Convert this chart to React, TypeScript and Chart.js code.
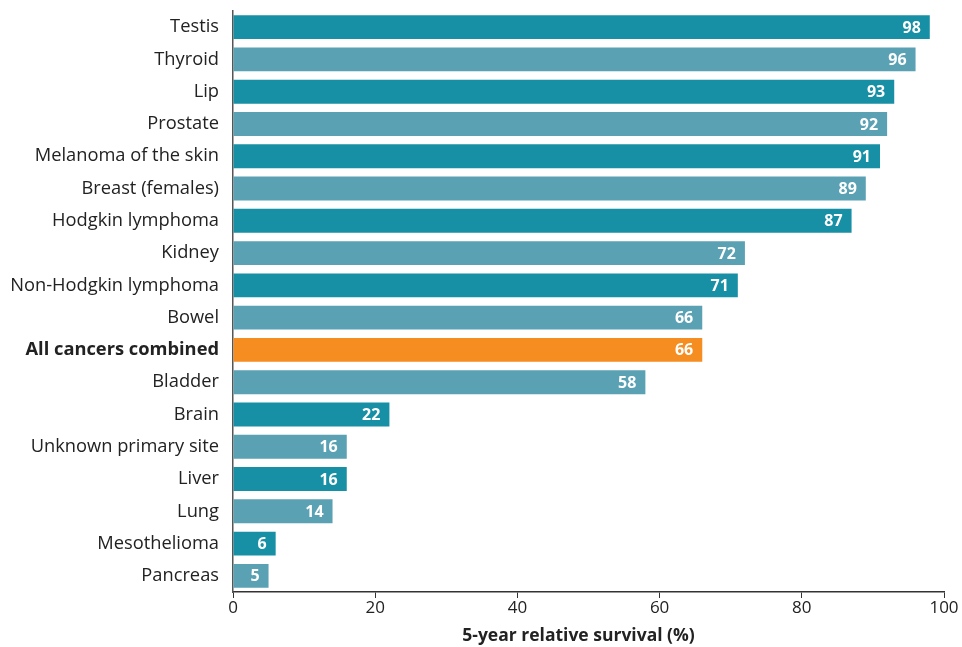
import React, { useEffect, useRef } from "react";
import { Chart, registerables } from "chart.js";

Chart.register(...registerables);

const categories = [
  "Testis",
  "Thyroid",
  "Lip",
  "Prostate",
  "Melanoma of the skin",
  "Breast (females)",
  "Hodgkin lymphoma",
  "Kidney",
  "Non-Hodgkin lymphoma",
  "Bowel",
  "All cancers combined",
  "Bladder",
  "Brain",
  "Unknown primary site",
  "Liver",
  "Lung",
  "Mesothelioma",
  "Pancreas",
];
const survival = [98, 96, 93, 92, 91, 89, 87, 72, 71, 66, 66, 58, 22, 16, 16, 14, 6, 5];
const xTicks = [0, 20, 40, 60, 80, 100];
const axisTitle = "5-year relative survival (%)";
const highlightLabel = "All cancers combined";

const DARK = "#178fa5";
const LIGHT = "#5ba1b4";
const ORANGE = "#f68d21";
const FONT = "'Open Sans', 'Noto Sans', sans-serif";

export default function App() {
  const ref = useRef<HTMLCanvasElement | null>(null);

  useEffect(() => {
    if (!ref.current) return;
    const colors = categories.map((c, i) =>
      c === highlightLabel ? ORANGE : i % 2 === 0 ? DARK : LIGHT
    );
    const labelPlugin = {
      id: "barLabels",
      afterDatasetsDraw(chart: any) {
        const ctx = chart.ctx;
        const meta = chart.getDatasetMeta(0);
        ctx.save();
        ctx.font = `bold 16px ${FONT}`;
        ctx.fillStyle = "#ffffff";
        ctx.textAlign = "right";
        ctx.textBaseline = "middle";
        meta.data.forEach((bar: any, i: number) => {
          ctx.fillText(String(survival[i]), bar.x - 9, bar.y + 1);
        });
        ctx.restore();
      },
      afterDraw(chart: any) {
        const ctx = chart.ctx;
        const a = chart.chartArea;
        ctx.save();
        ctx.font = `bold 17.5px ${FONT}`;
        ctx.fillStyle = "#222222";
        ctx.textAlign = "center";
        ctx.textBaseline = "middle";
        ctx.fillText(axisTitle, (a.left + a.right) / 2 - 10, a.bottom + 44);
        ctx.restore();
      },
    };
    const chart = new Chart(ref.current, {
      type: "bar",
      data: {
        labels: categories,
        datasets: [
          {
            data: survival,
            backgroundColor: colors,
            barPercentage: 0.74,
            categoryPercentage: 1,
          },
        ],
      },
      options: {
        indexAxis: "y",
        animation: false,
        responsive: true,
        maintainAspectRatio: false,
        layout: { padding: { top: 11, right: 18, bottom: 0, left: 8 } },
        plugins: {
          legend: { display: false },
          tooltip: { enabled: false },
        },
        scales: {
          x: {
            min: 0,
            max: 100,
            afterFit: (s: any) => {
              s.height = 55;
              s.paddingLeft = 0;
              s.paddingRight = 0;
            },
            afterBuildTicks: (s: any) => {
              s.ticks = xTicks.map((v) => ({ value: v }));
            },
            grid: {
              display: true,
              drawOnChartArea: false,
              drawTicks: true,
              tickLength: 6,
              color: "#333333",
              tickColor: "#333333",
            },
            border: { display: true, color: "#333333", width: 1.5 },
            ticks: {
              color: "#222222",
              font: { family: FONT, size: 17 },
              padding: 0,
              maxRotation: 0,
            },
            title: { display: false },
          },
          y: {
            afterFit: (s: any) => {
              s.width = 225;
              s.paddingTop = 0;
              s.paddingBottom = 0;
            },
            grid: { display: false, drawTicks: false },
            border: { display: true, color: "#555555", width: 1.5 },
            ticks: {
              color: "#222222",
              padding: 14,
              autoSkip: false,
              font: (c: any) => ({
                family: FONT,
                size: 18.3,
                weight: categories[c.index] === highlightLabel ? "bold" : "normal",
              }),
            },
          },
        },
      },
      plugins: [labelPlugin],
    });
    return () => chart.destroy();
  }, []);

  return (
    <div
      style={{
        position: "fixed",
        top: 0,
        left: 0,
        width: 962,
        height: 647,
      }}
    >
      <canvas ref={ref} />
    </div>
  );
}
